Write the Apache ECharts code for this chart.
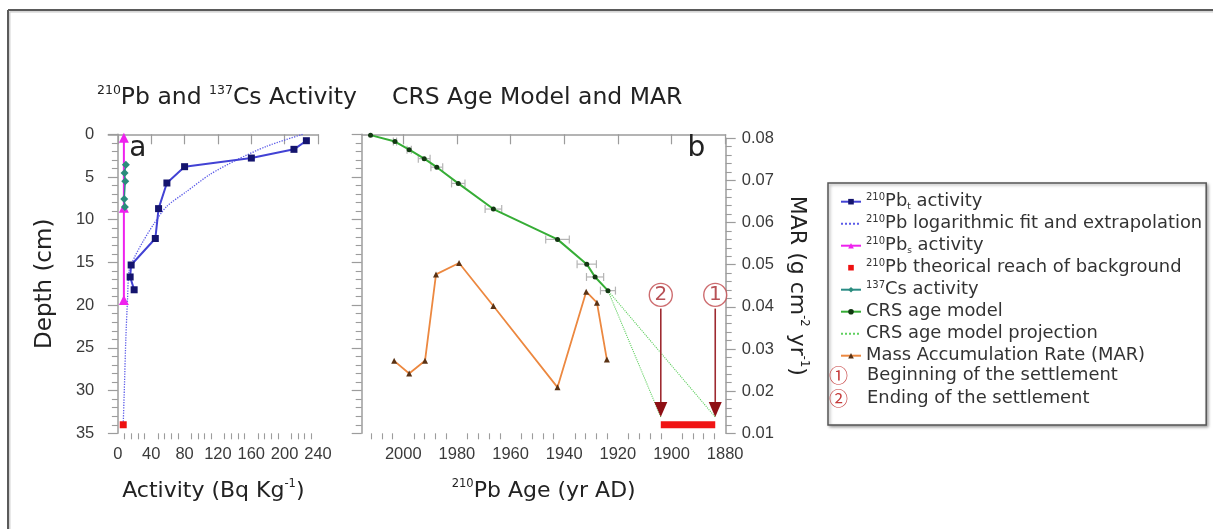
<!DOCTYPE html>
<html>
<head>
<meta charset="utf-8">
<script src="https://cdn.jsdelivr.net/npm/echarts@6/dist/echarts.min.js"></script>
<style>
  html, body { margin: 0; padding: 0; background: #fff; }
  #chart { width: 1213px; height: 529px; }
</style>
</head>
<body>
<div id="chart"></div>
<script>
// ---- Panel a: 210Pb and 137Cs activity profiles (activity Bq/kg, depth cm) ----
const pbTotalActivity = [226.1, 211.2, 160.1, 80.0, 58.8, 48.8, 44.9, 15.9, 14.7, 19.5];
const pbTotalDepth    = [0.75, 1.76, 2.78, 3.79, 5.7, 8.7, 12.2, 15.3, 16.7, 18.2];

const pbFitActivity = [221.6, 178.4, 142.4, 110.4, 82.4, 58.4, 42.4, 30.4, 20.4, 13.6, 11.5, 9.5, 8.0, 6.4];
const pbFitDepth    = [0, 1.4, 3.0, 4.7, 6.7, 8.45, 10.6, 12.5, 14.3, 15.9, 19.4, 24, 29, 34];

const pbSupportedActivity = [7.2, 7.2, 7.2];
const pbSupportedDepth    = [0.4, 8.6, 19.4];

const backgroundActivity = [6.4];
const backgroundDepth    = [34];

const csActivity = [9.6, 8.0, 8.8, 7.6, 8.4];
const csDepth    = [3.56, 4.53, 5.5, 7.58, 8.51];

// ---- Panel b: CRS age model and mass accumulation rate ----
const crsYear      = [2012.2, 2003.1, 1997.8, 1992.2, 1987.5, 1979.5, 1966.4, 1942.5, 1931.6, 1928.5, 1923.7];
const crsDepth     = [0.1, 0.85, 1.8, 2.85, 3.85, 5.75, 8.75, 12.3, 15.2, 16.7, 18.3];
const crsYearError = [0, 0.6, 0.8, 2.2, 2.2, 2.5, 3.1, 4.4, 3.6, 3.2, 2.8];

const projectionYear  = [1904.0, 1923.7, 1883.7];
const projectionDepth = [33.1, 18.3, 33.1];

const marYear = [2003.4, 1997.8, 1991.9, 1987.8, 1979.2, 1966.4, 1942.5, 1931.8, 1927.8, 1924.1];
const marValue = [0.0272, 0.0242, 0.0272, 0.0477, 0.0504, 0.0402, 0.0209, 0.0436, 0.0410, 0.0275];

// settlement: 1 = beginning, 2 = ending
const settlementYear   = [1883.7, 1904.0];
const settlementLabel  = ['1', '2'];
const settlementMarkDepth = 18.8;
const settlementArrowTop  = 20.4;
const settlementArrowTip  = 33.1;
const backgroundReachDepth = 34;

// ---- Axis ticks ----
const activityTicks = [0, 40, 80, 120, 160, 200, 240];
const yearTicks = [1880, 1900, 1920, 1940, 1960, 1980, 2000];
const depthTicks = [0, 5, 10, 15, 20, 25, 30, 35];
const marTicks = [0.01, 0.02, 0.03, 0.04, 0.05, 0.06, 0.07, 0.08];

function minorBetween(majors, parts, extraEnd) {
  const out = [];
  for (let i = 0; i < majors.length - 1; i++) {
    const step = (majors[i + 1] - majors[i]) / parts;
    for (let k = 1; k < parts; k++) out.push(majors[i] + k * step);
  }
  return out.concat(extraEnd || []);
}
const activityMinorTicks = minorBetween(activityTicks, 5);
const yearMinorTicks = minorBetween(yearTicks, 5, [2004, 2008, 2012]);

const zip = (xs, ys) => xs.map((x, i) => [x, ys[i]]);

const FONT = 'DejaVu Sans';
const TICK_FONT = 'Liberation Sans';
const AXIS_COLOR = '#9c9c9c';
const LABEL_COLOR = '#3a3a3a';
const TEXT_COLOR = '#222';

const supRich = {
  s: { fontFamily: FONT, fontSize: 12.5, lineHeight: 25, verticalAlign: 'top', color: TEXT_COLOR }
};

const chart = echarts.init(document.getElementById('chart'));

const gridA = { left: 108.3, top: 134.3, width: 210, height: 299 };
const gridB = { left: 361.7, top: 134.3, width: 364, height: 299 };
const gridM = { left: 361.7, top: 138.3, width: 364, height: 295 };

const ACT_MIN = -11.5, ACT_MAX = 240.4;
const YEAR_MIN = 1879.8, YEAR_MAX = 2015.5;

function tickAxisBase() {
  return {
    axisLine: { show: true, lineStyle: { color: AXIS_COLOR, width: 1.5 } },
    axisTick: { show: true, inside: false, length: 10, lineStyle: { color: AXIS_COLOR, width: 1.2 } },
    axisLabel: { show: true, fontFamily: TICK_FONT, fontSize: 16.5, color: LABEL_COLOR },
    splitLine: { show: false }
  };
}

const legendNames = {
  pbt: '210Pbt activity',
  fit: '210Pb logarithmic fit and extrapolation',
  pbs: '210Pbs activity',
  bg: '210Pb theorical reach of background',
  cs: '137Cs activity',
  crs: 'CRS age model',
  proj: 'CRS age model projection',
  mar: 'Mass Accumulation Rate (MAR)',
  begin: 'Beginning of the settlement',
  end: 'Ending of the settlement'
};
const legendRichText = {
  [legendNames.pbt]: '{s|210}{m|Pb}{b|t}{m| activity}',
  [legendNames.fit]: '{s|210}{m|Pb logarithmic fit and extrapolation}',
  [legendNames.pbs]: '{s|210}{m|Pb}{b|s}{m| activity}',
  [legendNames.bg]: '{s|210}{m|Pb theorical reach of background}',
  [legendNames.cs]: '{s|137}{m|Cs activity}',
  [legendNames.crs]: '{m|CRS age model}',
  [legendNames.proj]: '{m|CRS age model projection}',
  [legendNames.mar]: '{m|Mass Accumulation Rate (MAR)}',
  [legendNames.begin]: '{c|①}{m|Beginning of the settlement}',
  [legendNames.end]: '{c|②}{m|Ending of the settlement}'
};
const LEG_FS = 17.9;
const legendRich = {
  m: { fontFamily: FONT, fontSize: LEG_FS, lineHeight: 18, color: '#333' },
  s: { fontFamily: FONT, fontSize: 10, lineHeight: 15, verticalAlign: 'top', color: '#333' },
  b: { fontFamily: FONT, fontSize: 9, lineHeight: 18, verticalAlign: 'bottom', color: '#333' },
  c: { fontFamily: 'Noto Sans CJK JP', fontSize: 19, lineHeight: 18, width: 38, align: 'left', color: '#c43a3a' }
};

const option = {
  backgroundColor: '#fff',
  animation: false,
  title: [
    { text: '{s|210}Pb and {s|137}Cs Activity', left: 97, top: 84, padding: 0,
      textStyle: { fontFamily: FONT, fontSize: 23.5, fontWeight: 'normal', color: TEXT_COLOR, lineHeight: 28, rich: supRich } },
    { text: 'CRS Age Model and MAR', left: 392, top: 84, padding: 0,
      textStyle: { fontFamily: FONT, fontSize: 23.5, fontWeight: 'normal', color: TEXT_COLOR, lineHeight: 28 } },
    { text: 'a', left: 129.3, top: 132.6, padding: 0,
      textStyle: { fontFamily: FONT, fontSize: 28, fontWeight: 'normal', color: TEXT_COLOR, lineHeight: 32 } },
    { text: 'b', left: 687.5, top: 132.6, padding: 0,
      textStyle: { fontFamily: FONT, fontSize: 28, fontWeight: 'normal', color: TEXT_COLOR, lineHeight: 32 } }
  ],
  legend: [
    {
      orient: 'vertical', left: 828, top: 183, padding: [9.7, 4, 60.3, 12],
      itemWidth: 20, itemHeight: 7, itemGap: 4, selectedMode: false,
      backgroundColor: '#fff', borderColor: '#555', borderWidth: 1.5,
      shadowColor: 'rgba(0,0,0,0.35)', shadowBlur: 3, shadowOffsetX: 1.5, shadowOffsetY: 1.5,
      data: [
        legendNames.pbt,
        { name: legendNames.fit, itemStyle: { opacity: 0 } },
        legendNames.pbs,
        legendNames.bg,
        legendNames.cs,
        legendNames.crs,
        { name: legendNames.proj, itemStyle: { opacity: 0 } },
        legendNames.mar
      ],
      formatter: (name) => legendRichText[name],
      textStyle: { rich: legendRich }
    },
    {
      orient: 'vertical', left: 823, top: 366.1, padding: 0,
      itemWidth: 0, itemHeight: 0, itemGap: 4, selectedMode: false,
      data: [legendNames.begin, legendNames.end],
      formatter: (name) => legendRichText[name],
      textStyle: { rich: legendRich }
    }
  ],
  graphic: [
    { type: 'line', silent: true, shape: { x1: 8, y1: 10, x2: 1213, y2: 10 }, style: { stroke: '#5a5a5a', lineWidth: 2 } },
    { type: 'line', silent: true, shape: { x1: 8, y1: 10, x2: 8, y2: 529 }, style: { stroke: '#5a5a5a', lineWidth: 2 } },
    { type: 'line', silent: true, shape: { x1: 9.5, y1: 11.8, x2: 1213, y2: 11.8 }, style: { stroke: '#c8c8c8', lineWidth: 1.2 } },
    { type: 'line', silent: true, shape: { x1: 9.8, y1: 11.8, x2: 9.8, y2: 529 }, style: { stroke: '#c8c8c8', lineWidth: 1.2 } }
  ],
  grid: [
    Object.assign({ containLabel: false }, gridA),
    Object.assign({ containLabel: false }, gridB),
    Object.assign({ containLabel: false }, gridM)
  ],
  xAxis: [
    // 0: activity, major ticks + labels
    Object.assign(tickAxisBase(), {
      type: 'value', gridIndex: 0, position: 'bottom', min: ACT_MIN, max: ACT_MAX,
      axisTick: { show: true, length: 10, customValues: activityTicks, lineStyle: { color: AXIS_COLOR, width: 1.2 } },
      axisLabel: { show: true, margin: 13, customValues: activityTicks, fontFamily: TICK_FONT, fontSize: 16.5, color: LABEL_COLOR,
        formatter: (v) => String(v) },
      name: 'Activity (Bq Kg{s|-1})', nameLocation: 'middle', nameGap: 45,
      nameTextStyle: { fontFamily: FONT, fontSize: 22, color: TEXT_COLOR, lineHeight: 26,
        rich: { s: { fontFamily: FONT, fontSize: 11.5, lineHeight: 22, verticalAlign: 'top', color: TEXT_COLOR } } }
    }),
    // 1: activity, minor ticks
    {
      type: 'value', gridIndex: 0, position: 'bottom', min: ACT_MIN, max: ACT_MAX,
      axisLine: { show: false }, axisLabel: { show: false }, splitLine: { show: false },
      axisTick: { show: true, length: 6, customValues: activityMinorTicks, lineStyle: { color: AXIS_COLOR, width: 1.1 } }
    },
    // 2: year, major ticks + labels
    Object.assign(tickAxisBase(), {
      type: 'value', gridIndex: 1, position: 'bottom', min: YEAR_MIN, max: YEAR_MAX, inverse: true,
      axisTick: { show: true, length: 10, customValues: yearTicks, lineStyle: { color: AXIS_COLOR, width: 1.2 } },
      axisLabel: { show: true, margin: 13, customValues: yearTicks, fontFamily: TICK_FONT, fontSize: 16.5, color: LABEL_COLOR,
        formatter: (v) => String(v) },
      name: '{s|210}Pb Age (yr AD)', nameLocation: 'middle', nameGap: 45,
      nameTextStyle: { fontFamily: FONT, fontSize: 22, color: TEXT_COLOR, lineHeight: 26,
        rich: { s: { fontFamily: FONT, fontSize: 11.5, lineHeight: 22, verticalAlign: 'top', color: TEXT_COLOR } } }
    }),
    // 3: year, minor ticks
    {
      type: 'value', gridIndex: 1, position: 'bottom', min: YEAR_MIN, max: YEAR_MAX, inverse: true,
      axisLine: { show: false }, axisLabel: { show: false }, splitLine: { show: false },
      axisTick: { show: true, length: 6, customValues: yearMinorTicks, lineStyle: { color: AXIS_COLOR, width: 1.1 } }
    },
    // 4: year scale for the MAR grid
    { type: 'value', gridIndex: 2, position: 'bottom', min: YEAR_MIN, max: YEAR_MAX, inverse: true, show: false }
  ],
  yAxis: [
    Object.assign(tickAxisBase(), {
      type: 'value', gridIndex: 0, position: 'left', min: 0, max: 35, interval: 5, inverse: true,
      axisLabel: { show: true, margin: 14, fontFamily: TICK_FONT, fontSize: 16.5, color: LABEL_COLOR },
      minorTick: { show: true, splitNumber: 5, length: 6, lineStyle: { color: AXIS_COLOR, width: 1.1 } },
      name: 'Depth (cm)', nameLocation: 'middle', nameGap: 50, nameRotate: 90,
      nameTextStyle: { fontFamily: FONT, fontSize: 23, color: TEXT_COLOR, lineHeight: 26 }
    }),
    Object.assign(tickAxisBase(), {
      type: 'value', gridIndex: 1, position: 'left', min: 0, max: 35, interval: 5, inverse: true,
      axisLabel: { show: false },
      minorTick: { show: true, splitNumber: 5, length: 6, lineStyle: { color: AXIS_COLOR, width: 1.1 } }
    }),
    Object.assign(tickAxisBase(), {
      type: 'value', gridIndex: 2, position: 'right', min: 0.01, max: 0.08, interval: 0.01,
      axisLabel: { show: true, margin: 16, fontFamily: TICK_FONT, fontSize: 16.5, color: LABEL_COLOR,
        formatter: (v) => v.toFixed(2) },
      minorTick: { show: true, splitNumber: 5, length: 6, lineStyle: { color: AXIS_COLOR, width: 1.1 } },
      name: 'MAR (g cm{s|-2} yr{s|-1})', nameLocation: 'middle', nameGap: 58, nameRotate: -90,
      nameTextStyle: { fontFamily: FONT, fontSize: 22, color: TEXT_COLOR, lineHeight: 26,
        rich: { s: { fontFamily: FONT, fontSize: 11.5, lineHeight: 22, verticalAlign: 'top', color: TEXT_COLOR } } }
    })
  ],
  series: [
    // ---- panel a ----
    {
      name: legendNames.fit, type: 'line', xAxisIndex: 0, yAxisIndex: 0,
      data: zip(pbFitActivity, pbFitDepth), smooth: 0.25, symbol: 'none',
      lineStyle: { color: '#5b5be8', width: 1.3, type: 'dotted' }, itemStyle: { color: '#5b5be8' }, z: 2
    },
    {
      name: legendNames.pbs, type: 'line', xAxisIndex: 0, yAxisIndex: 0,
      data: zip(pbSupportedActivity, pbSupportedDepth), symbol: 'triangle', symbolSize: 10,
      lineStyle: { color: '#ee22ee', width: 2 }, itemStyle: { color: '#ee22ee' }, z: 3
    },
    {
      name: legendNames.cs, type: 'line', xAxisIndex: 0, yAxisIndex: 0,
      data: zip(csActivity, csDepth), symbol: 'diamond', symbolSize: 8,
      lineStyle: { color: '#2a8c86', width: 1.5 }, itemStyle: { color: '#2a8c7c' }, z: 4
    },
    {
      name: legendNames.pbt, type: 'line', xAxisIndex: 0, yAxisIndex: 0,
      data: zip(pbTotalActivity, pbTotalDepth), symbol: 'rect', symbolSize: 7,
      lineStyle: { color: '#4242d4', width: 2 }, itemStyle: { color: '#14146e' }, z: 5
    },
    {
      name: legendNames.bg, type: 'line', xAxisIndex: 0, yAxisIndex: 0,
      data: zip(backgroundActivity, backgroundDepth), symbol: 'rect', symbolSize: 7,
      lineStyle: { width: 0, opacity: 0 }, itemStyle: { color: '#ee1111' }, z: 6
    },
    // ---- panel b ----
    {
      name: 'crs-error', type: 'custom', xAxisIndex: 2, yAxisIndex: 1,
      data: crsYear.map((y, i) => [y, crsDepth[i], crsYearError[i]]),
      encode: { x: 0, y: 1 },
      renderItem: (params, api) => {
        const y = api.value(0), d = api.value(1), e = api.value(2);
        if (!e) return null;
        const a = api.coord([y - e, d]);
        const b = api.coord([y + e, d]);
        const st = { stroke: '#b4b4b4', lineWidth: 1.2 };
        return { type: 'group', children: [
          { type: 'line', shape: { x1: a[0], y1: a[1], x2: b[0], y2: b[1] }, style: st },
          { type: 'line', shape: { x1: a[0], y1: a[1] - 4, x2: a[0], y2: a[1] + 4 }, style: st },
          { type: 'line', shape: { x1: b[0], y1: b[1] - 4, x2: b[0], y2: b[1] + 4 }, style: st }
        ] };
      },
      z: 2
    },
    {
      name: legendNames.proj, type: 'line', xAxisIndex: 2, yAxisIndex: 1,
      data: zip(projectionYear, projectionDepth), symbol: 'none',
      lineStyle: { color: '#5fcf5f', width: 1.1, type: 'dotted' }, itemStyle: { color: '#5fcf5f' }, z: 3
    },
    {
      name: legendNames.crs, type: 'line', xAxisIndex: 2, yAxisIndex: 1,
      data: zip(crsYear, crsDepth), symbol: 'circle', symbolSize: 5,
      lineStyle: { color: '#36ad36', width: 2 }, itemStyle: { color: '#123812' }, z: 4
    },
    {
      name: 'background-reach', type: 'line', xAxisIndex: 2, yAxisIndex: 1,
      data: zip(settlementYear, [backgroundReachDepth, backgroundReachDepth]), symbol: 'none',
      lineStyle: { color: '#f01414', width: 7, cap: 'butt' }, z: 5
    },
    {
      name: 'settlement-arrows', type: 'custom', xAxisIndex: 2, yAxisIndex: 1,
      data: settlementYear.map((y) => [y, settlementArrowTop, settlementArrowTip]),
      encode: { x: 0, y: [1, 2] },
      renderItem: (params, api) => {
        const top = api.coord([api.value(0), api.value(1)]);
        const tip = api.coord([api.value(0), api.value(2)]);
        return { type: 'group', children: [
          { type: 'line', shape: { x1: top[0], y1: top[1], x2: tip[0], y2: tip[1] - 12 },
            style: { stroke: '#9e2a30', lineWidth: 1.6 } },
          { type: 'polygon', shape: { points: [[tip[0] - 6.5, tip[1] - 15], [tip[0] + 6.5, tip[1] - 15], [tip[0], tip[1]]] },
            style: { fill: '#8e0f14' } }
        ] };
      },
      z: 6
    },
    {
      name: legendNames.begin, type: 'scatter', xAxisIndex: 2, yAxisIndex: 1,
      data: [[settlementYear[0], settlementMarkDepth]], symbol: 'circle', symbolSize: 23,
      itemStyle: { color: '#fff', borderColor: '#c0474b', borderWidth: 1.4 },
      label: { show: true, position: 'inside', formatter: () => settlementLabel[0],
        fontFamily: FONT, fontSize: 20, color: '#a5262c' }, z: 7
    },
    {
      name: legendNames.end, type: 'scatter', xAxisIndex: 2, yAxisIndex: 1,
      data: [[settlementYear[1], settlementMarkDepth]], symbol: 'circle', symbolSize: 23,
      itemStyle: { color: '#fff', borderColor: '#c0474b', borderWidth: 1.4 },
      label: { show: true, position: 'inside', formatter: () => settlementLabel[1],
        fontFamily: FONT, fontSize: 20, color: '#a5262c' }, z: 7
    },
    {
      name: legendNames.mar, type: 'line', xAxisIndex: 4, yAxisIndex: 2,
      data: zip(marYear, marValue), symbol: 'triangle', symbolSize: 6,
      lineStyle: { color: '#ec8840', width: 1.8 }, itemStyle: { color: '#5a3214' }, z: 4
    }
  ]
};

chart.setOption(option);
</script>
</body>
</html>
